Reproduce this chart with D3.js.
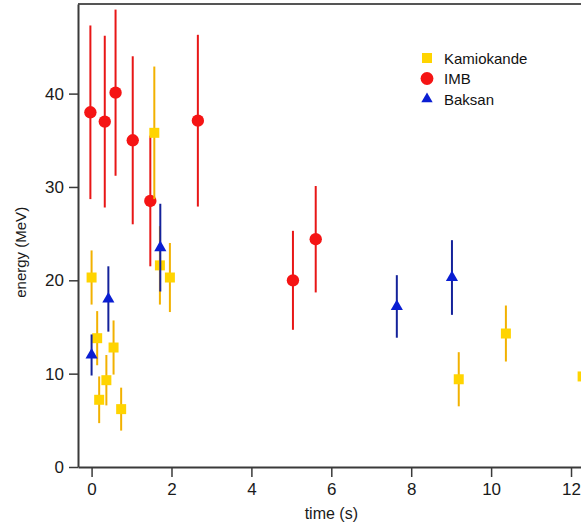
<!DOCTYPE html>
<html>
<head>
<meta charset="utf-8">
<script src="https://cdn.jsdelivr.net/npm/d3@7/dist/d3.min.js"></script>
<style>
  html, body { margin: 0; padding: 0; background: #fff; }
  svg { display: block; font-family: "Liberation Sans", Arial, sans-serif; }
</style>
</head>
<body>
<svg id="chart" width="581" height="523"></svg>
<script>
// ---- data ----
const kamTime   = [0, 0.14, 0.19, 0.37, 0.55, 0.74, 1.57, 1.71, 1.96, 9.19, 10.37, 12.29];
const kamEnergy = [20.3, 13.8, 7.2, 9.3, 12.8, 6.2, 35.8, 21.6, 20.3, 9.4, 14.3, 9.7];
const kamErr    = [2.9, 2.9, 2.5, 2.7, 2.9, 2.3, 7.1, 4.2, 3.7, 2.9, 3.0, 2.8];

const imbTime   = [-0.03, 0.33, 0.6, 1.03, 1.47, 2.66, 5.04, 5.61];
const imbEnergy = [38.0, 37.0, 40.1, 35.0, 28.5, 37.1, 20.0, 24.4];
const imbErr    = [9.3, 9.2, 8.9, 9.0, 7.0, 9.2, 5.3, 5.7];

const baksanTime   = [0, 0.42, 1.72, 7.64, 9.02];
const baksanEnergy = [12.0, 18.0, 23.5, 17.2, 20.3];
const baksanErr    = [2.2, 3.5, 4.7, 3.35, 4.0];

const xTicks = [0, 2, 4, 6, 8, 10, 12];
const yTicks = [0, 10, 20, 30, 40];
const seriesNames = ["Kamiokande", "IMB", "Baksan"];

// ---- layout ----
const svg = d3.select("#chart");
const mLeft = 78, mTop = 4, mBottom = 467, mRight = 587;

const x = d3.scaleLinear().domain([-0.34, 12.4]).range([mLeft, mRight]);
const y = d3.scaleLinear().domain([0, 49.6]).range([mBottom, mTop]);

const axisColor = "#3a3a3a";

// top frame line
svg.append("line")
  .attr("x1", mLeft).attr("x2", mRight)
  .attr("y1", mTop).attr("y2", mTop)
  .attr("stroke", "#555").attr("stroke-width", 2);

// axes
const xAxis = svg.append("g")
  .attr("transform", `translate(0,${mBottom})`)
  .call(d3.axisBottom(x).tickValues(xTicks).tickSize(10).tickPadding(6).tickSizeOuter(0));
const yAxis = svg.append("g")
  .attr("transform", `translate(${mLeft},0)`)
  .call(d3.axisLeft(y).tickValues(yTicks).tickSize(9).tickPadding(5).tickSizeOuter(0));

[xAxis, yAxis].forEach(g => {
  g.select(".domain").attr("stroke", axisColor).attr("stroke-width", 2);
  g.selectAll(".tick line").attr("stroke", axisColor).attr("stroke-width", 1.5);
  g.selectAll(".tick text").attr("fill", "#1a1a1a").style("font-size", "17px")
    .style("font-family", "'Liberation Sans', Arial, sans-serif");
});

// axis labels
svg.append("text")
  .attr("x", x(6)).attr("y", 519)
  .attr("text-anchor", "middle")
  .style("font-size", "16px").attr("fill", "#1a1a1a")
  .text("time (s)");
svg.append("text")
  .attr("transform", `translate(26,${y(23)}) rotate(-90)`)
  .attr("text-anchor", "middle")
  .style("font-size", "15px").attr("fill", "#1a1a1a")
  .text("energy (MeV)");

// ---- series ----
const series = [
  { name: "IMB", t: imbTime, e: imbEnergy, err: imbErr,
    fill: "#f51414", bar: "#e81616", symbol: d3.symbolCircle, size: 120 },
  { name: "Kamiokande", t: kamTime, e: kamEnergy, err: kamErr,
    fill: "#ffd400", bar: "#f2b100", symbol: d3.symbolSquare, size: 100 },
  { name: "Baksan", t: baksanTime, e: baksanEnergy, err: baksanErr,
    fill: "#0a1ed2", bar: "#14229a", symbol: d3.symbolTriangle, size: 64 }
];

series.forEach(s => {
  const pts = s.t.map((t, i) => ({ t, e: s.e[i], err: s.err[i] }));
  const g = svg.append("g");
  g.selectAll("line.err").data(pts).join("line")
    .attr("class", "err")
    .attr("x1", d => x(d.t)).attr("x2", d => x(d.t))
    .attr("y1", d => y(d.e + d.err)).attr("y2", d => y(d.e - d.err))
    .attr("stroke", s.bar).attr("stroke-width", 2);
  g.selectAll("path.mk").data(pts).join("path")
    .attr("class", "mk")
    .attr("transform", d => `translate(${x(d.t)},${y(d.e)})`)
    .attr("d", d3.symbol().type(s.symbol).size(s.size)())
    .attr("fill", s.fill);
});

// ---- legend ----
const legend = svg.append("g");
seriesNames.forEach((name, i) => {
  const s = series.find(q => q.name === name);
  const ly = 58 + i * 20.5;
  legend.append("path")
    .attr("transform", `translate(427,${ly})`)
    .attr("d", d3.symbol().type(s.symbol).size(s.symbol === d3.symbolTriangle ? 56 : (s.symbol === d3.symbolSquare ? 100 : 130))())
    .attr("fill", s.fill);
  legend.append("text")
    .attr("x", 444).attr("y", ly + 5.5)
    .style("font-size", "15px").attr("fill", "#111")
    .text(name);
});
</script>
</body>
</html>
